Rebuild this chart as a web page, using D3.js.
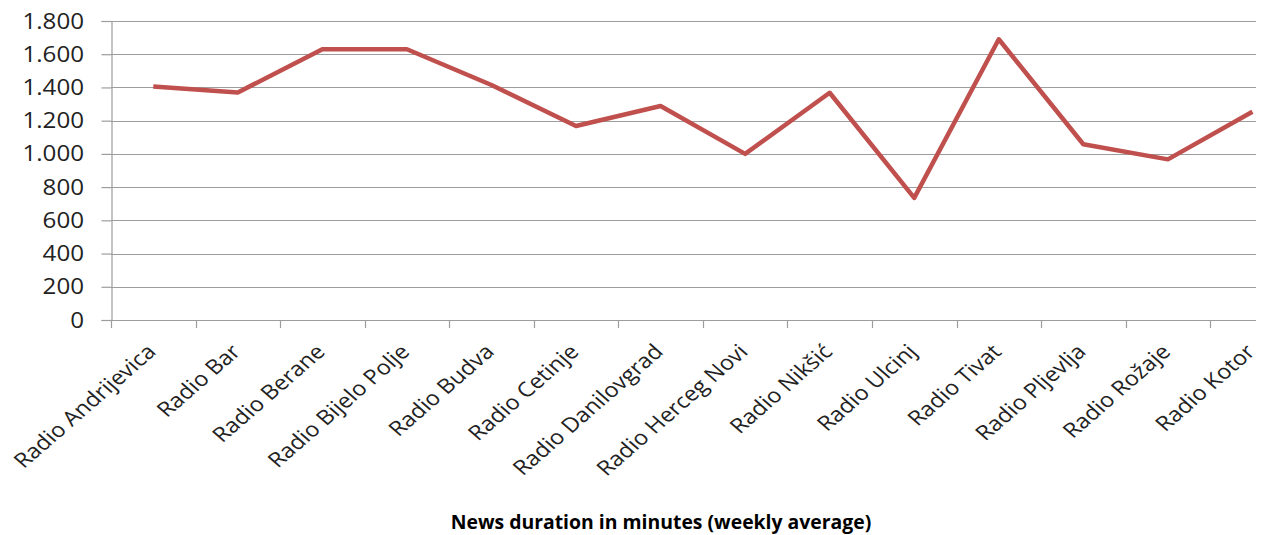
<!DOCTYPE html>
<html>
<head>
<meta charset="utf-8">
<script src="https://cdn.jsdelivr.net/npm/d3@7"></script>
<style>
  body { margin: 0; background: #fff; }
  svg { display: block; }
</style>
</head>
<body>
<div id="chart"></div>
<script>
// podaci
const stations = ["Radio Andrijevica", "Radio Bar", "Radio Berane", "Radio Bijelo Polje", "Radio Budva",
  "Radio Cetinje", "Radio Danilovgrad", "Radio Herceg Novi", "Radio Nikšić", "Radio Ulcinj",
  "Radio Tivat", "Radio Pljevlja", "Radio Rožaje", "Radio Kotor"];
const minutes = [1405, 1370, 1630, 1630, 1415, 1168, 1288, 1000, 1368, 735, 1690, 1058, 967, 1254];
const yTicks = [0, 200, 400, 600, 800, 1000, 1200, 1400, 1600, 1800];
const title = "News duration in minutes (weekly average)";

const width = 1261, height = 535;
const plotLeft = 111, plotTop = 21, plotBottom = 320, gridEnd = 1256;
const band = 84.55;
const stretch = 1.15; // original slika je malo razvucena vodoravno

const svg = d3.select("#chart").append("svg")
  .attr("width", width)
  .attr("height", height);

const x = d3.scaleBand()
  .domain(stations)
  .range([plotLeft, plotLeft + band * stations.length]);

const y = d3.scaleLinear()
  .domain([0, 1800])
  .range([plotBottom, plotTop]);

const fmt = d => d3.format(",")(d).replace(/,/g, ".");

// mreža
svg.append("g")
  .selectAll("line")
  .data(yTicks.filter(d => d > 0))
  .join("line")
  .attr("x1", plotLeft).attr("x2", gridEnd)
  .attr("y1", d => Math.round(y(d)) + 0.5).attr("y2", d => Math.round(y(d)) + 0.5)
  .attr("stroke", "#9d9d9d")
  .attr("stroke-width", 1.2);

// y osa
const yAxis = svg.append("g")
  .attr("transform", `translate(${plotLeft + 0.5},0)`)
  .call(d3.axisLeft(y).tickValues(yTicks).tickFormat("").tickSize(10));
yAxis.select(".domain").attr("stroke", "#9d9d9d").attr("stroke-width", 1.2);
yAxis.selectAll(".tick line").attr("stroke", "#9d9d9d").attr("stroke-width", 1.2);

svg.append("g")
  .selectAll("text")
  .data(yTicks)
  .join("text")
  .attr("transform", d => `translate(84,${y(d)}) scale(${stretch},1)`)
  .attr("text-anchor", "end")
  .attr("dy", "0.36em")
  .attr("fill", "#222")
  .style("font", "21px 'Open Sans', sans-serif")
  .text(fmt);

// x osa
svg.append("line")
  .attr("x1", plotLeft).attr("x2", gridEnd)
  .attr("y1", plotBottom + 0.5).attr("y2", plotBottom + 0.5)
  .attr("stroke", "#9d9d9d").attr("stroke-width", 1.2);

svg.append("g")
  .selectAll("line")
  .data(stations)
  .join("line")
  .attr("x1", d => Math.round(x(d)) + 0.5).attr("x2", d => Math.round(x(d)) + 0.5)
  .attr("y1", plotBottom).attr("y2", plotBottom + 8)
  .attr("stroke", "#9d9d9d").attr("stroke-width", 1.2);

svg.append("g")
  .selectAll("text")
  .data(stations)
  .join("text")
  .attr("transform", d => `translate(${x(d) + x.bandwidth() / 2 + 4},${plotBottom + 33}) scale(${stretch},1) rotate(-45)`)
  .attr("text-anchor", "end")
  .attr("fill", "#222")
  .style("font", "20.5px 'Open Sans', sans-serif")
  .text(d => d);

// linija
const line = d3.line()
  .x((d, i) => x(stations[i]) + x.bandwidth() / 2)
  .y(d => y(d));

svg.append("path")
  .datum(minutes)
  .attr("fill", "none")
  .attr("stroke", "#c0504d")
  .attr("stroke-width", 4.5)
  .attr("stroke-linejoin", "round")
  .attr("d", line);

// naslov
svg.append("text")
  .attr("x", 661)
  .attr("y", 529)
  .attr("text-anchor", "middle")
  .attr("fill", "#000")
  .style("font", "bold 19.4px 'Open Sans', sans-serif")
  .text(title);
</script>
</body>
</html>
